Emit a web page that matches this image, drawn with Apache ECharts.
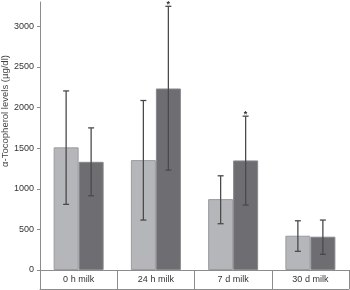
<!DOCTYPE html>
<html>
<head>
<meta charset="utf-8">
<script src="https://cdn.jsdelivr.net/npm/echarts@6/dist/echarts.min.js"></script>
<style>
  html, body { margin: 0; padding: 0; background: #fff; }
</style>
</head>
<body>
<div id="main" style="width: 350px;height:290px;"></div>
<script>
// 数据
var categories = ['0 h milk', '24 h milk', '7 d milk', '30 d milk'];
var lightMean = [1510, 1353, 873, 422];
var lightLow = [808, 615, 570, 230];
var lightHigh = [2205, 2087, 1160, 606];
var darkMean = [1332, 2235, 1349, 410];
var darkLow = [914, 1230, 800, 193];
var darkHigh = [1750, 3247, 1894, 615];
var darkStar = [false, true, true, false];
var yTicks = [0, 500, 1000, 1500, 2000, 2500, 3000];

var barW = 25;
var axisColor = '#8c8c8c';
var fontFamily = 'Liberation Sans, Arial, sans-serif';

// 误差线数据 [类别, 低, 高, 偏移(-1左/1右), 星号]
var errData = [];
categories.forEach(function (c, i) {
  errData.push([i, lightLow[i], lightHigh[i], -1, false]);
  errData.push([i, darkLow[i], darkHigh[i], 1, darkStar[i]]);
});

function renderErr(params, api) {
  var idx = api.value(0);
  var lo = api.coord([idx, api.value(1)]);
  var hi = api.coord([idx, api.value(2)]);
  var x = lo[0] + api.value(3) * barW / 2;
  var style = { stroke: '#4a4a4a', lineWidth: 1.3 };
  var children = [
    { type: 'line', shape: { x1: x, y1: lo[1], x2: x, y2: hi[1] }, style: style },
    { type: 'line', shape: { x1: x - 3, y1: lo[1], x2: x + 3, y2: lo[1] }, style: style },
    { type: 'line', shape: { x1: x - 3, y1: hi[1], x2: x + 3, y2: hi[1] }, style: style }
  ];
  if (errData[params.dataIndex][4]) {
    children.push({
      type: 'text',
      style: {
        text: '*', x: x, y: hi[1] - 6, align: 'center', verticalAlign: 'top',
        fontSize: 9, fontWeight: 'bold', fill: '#333', fontFamily: fontFamily
      }
    });
  }
  return { type: 'group', children: children };
}

var myChart = echarts.init(document.getElementById('main'));
var option = {
  animation: false,
  grid: { left: 40, right: 1, top: 2, bottom: 20, containLabel: false, outerBoundsMode: 'none' },
  xAxis: [
    {
      type: 'category',
      data: categories,
      axisLine: { lineStyle: { color: axisColor, width: 1 } },
      axisTick: { show: true, alignWithLabel: false, length: 19, lineStyle: { color: axisColor } },
      axisLabel: { color: '#333', fontSize: 9, margin: 5, fontFamily: fontFamily }
    },
    {
      type: 'category',
      data: categories,
      position: 'bottom',
      offset: 19,
      axisLine: { lineStyle: { color: axisColor, width: 1 } },
      axisTick: { show: false },
      axisLabel: { show: false }
    }
  ],
  yAxis: {
    type: 'value',
    min: 0,
    max: 3300,
    name: 'α-Tocopherol levels (µg/dl)',
    nameLocation: 'middle',
    nameRotate: 90,
    nameGap: 30,
    nameMoveOverlap: false,
    nameTextStyle: { color: '#444', fontSize: 9.5, fontFamily: fontFamily, padding: [0, 0, 0, 50] },
    axisLine: { show: true, lineStyle: { color: axisColor, width: 1 } },
    axisTick: { show: true, length: 3, customValues: yTicks, lineStyle: { color: axisColor } },
    axisLabel: {
      color: '#333', fontSize: 9, margin: 6, customValues: yTicks, fontFamily: fontFamily,
      formatter: function (v) { return String(v); }
    },
    splitLine: { show: false }
  },
  series: [
    {
      type: 'bar',
      data: lightMean,
      barWidth: barW,
      barGap: '0%',
      itemStyle: { color: '#b4b6b9', borderColor: '#9a9c9f', borderWidth: 1 }
    },
    {
      type: 'bar',
      data: darkMean,
      barWidth: barW,
      itemStyle: { color: '#6e6e72', borderColor: '#88888c', borderWidth: 1 }
    },
    {
      type: 'custom',
      renderItem: renderErr,
      data: errData,
      z: 10,
      encode: { x: 0, y: [1, 2] }
    }
  ]
};
myChart.setOption(option);
</script>
</body>
</html>
